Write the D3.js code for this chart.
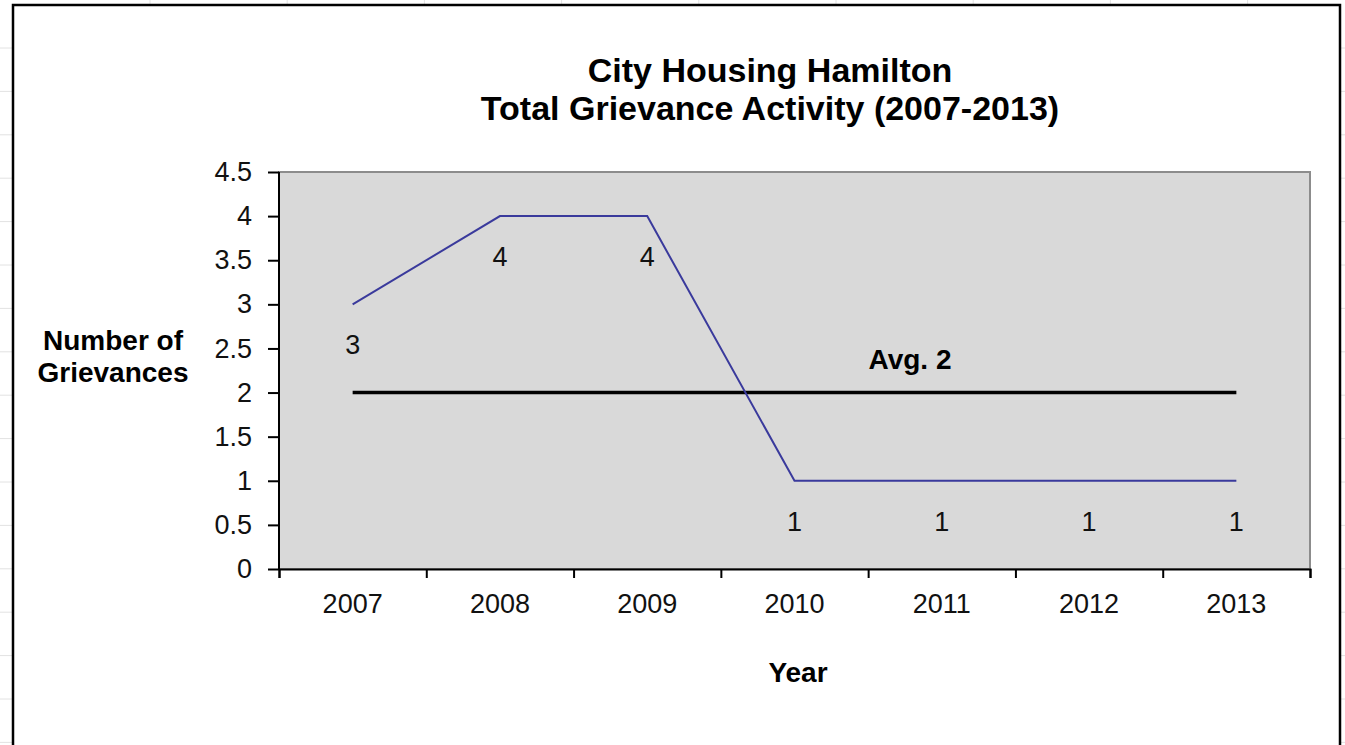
<!DOCTYPE html>
<html>
<head>
<meta charset="utf-8">
<script src="https://cdn.jsdelivr.net/npm/d3@7"></script>
<style>
  body { margin: 0; background: #fff; }
  svg { display: block; }
  text { font-family: "Liberation Sans", Arial, sans-serif; fill: #000; }
  .axis path, .axis line { stroke: #000; stroke-width: 2; }
  .axis text { font-size: 27px; fill: #111; }
</style>
</head>
<body>
<svg id="chart" width="1345" height="745"></svg>
<script>
const $ = document.getElementById.bind(document);

// chart values
const years = ["2007", "2008", "2009", "2010", "2011", "2012", "2013"];
const grievances = [3, 4, 4, 1, 1, 1, 1];
const average = 2;
const yTicks = [0, 0.5, 1, 1.5, 2, 2.5, 3, 3.5, 4, 4.5];
const titleLines = ["City Housing Hamilton", "Total Grievance Activity  (2007-2013)"];
const yTitleLines = ["Number of", "Grievances"];

window.addEventListener("DOMContentLoaded", draw);

function draw() {
    const svg = d3.select("#chart");
    const W = 1345, H = 745;
    const plot = { left: 279, top: 172, right: 1310, bottom: 569 };

    /* spreadsheet backdrop
     */
    const grid = svg.append("g").attr("stroke", "#e2e2e2").attr("stroke-width", 1);
    for (let y = 48; y < H; y += 43.4) {
	grid.append("line").attr("x1", 0).attr("x2", W).attr("y1", y).attr("y2", y);
    }
    for (let x = 150; x < W; x += 137.2) {
	grid.append("line").attr("x1", x).attr("x2", x).attr("y1", 0).attr("y2", H);
    }

    // chart area with frame
    svg.append("rect")
	.attr("x", 13).attr("y", 5)
	.attr("width", 1327).attr("height", 760)
	.attr("fill", "#fff")
	.attr("stroke", "#000")
	.attr("stroke-width", 2.5);

    /* SCALES
     */
    const x = d3.scaleBand()
	  .domain(years)
	  .range([plot.left, plot.right]);
    const cx = (d) => x(d) + x.bandwidth() / 2;
    const y = d3.scaleLinear()
	  .domain([0, 4.5])
	  .range([plot.bottom, plot.top]);
    const edge = d3.scaleLinear()
	  .domain([0, years.length])
	  .range([plot.left, plot.right]);

    // plot background
    svg.append("rect")
	.attr("x", plot.left).attr("y", plot.top)
	.attr("width", plot.right - plot.left)
	.attr("height", plot.bottom - plot.top)
	.attr("fill", "#d9d9d9")
	.attr("stroke", "#8c8c8c")
	.attr("stroke-width", 2);

    /* TITLES
     */
    svg.append("text")
	.attr("x", 770).attr("y", 82)
	.attr("text-anchor", "middle")
	.style("font-size", "34px").style("font-weight", "bold")
	.selectAll("tspan")
	.data(titleLines)
	.enter().append("tspan")
	.attr("x", 770)
	.attr("dy", (d, i) => i === 0 ? 0 : 38)
	.text((d) => d);

    svg.append("text")
	.attr("x", 113).attr("y", 350)
	.attr("text-anchor", "middle")
	.style("font-size", "28px").style("font-weight", "bold")
	.selectAll("tspan")
	.data(yTitleLines)
	.enter().append("tspan")
	.attr("x", 113)
	.attr("dy", (d, i) => i === 0 ? 0 : 32)
	.text((d) => d);

    svg.append("text")
	.attr("x", 798).attr("y", 682)
	.attr("text-anchor", "middle")
	.style("font-size", "28px").style("font-weight", "bold")
	.text("Year");

    /* AXES
     */
    svg.append("g")
	.attr("class", "axis")
	.attr("transform", `translate(${plot.left},0)`)
	.call(d3.axisLeft(y).tickValues(yTicks).tickSize(11).tickPadding(16)
	      .tickFormat((d) => String(d)))
	.call((g) => g.select(".domain").attr("d", `M0,${plot.top}V${plot.bottom}`));

    svg.append("g")
	.attr("class", "axis")
	.attr("transform", `translate(0,${plot.bottom})`)
	.call(d3.axisBottom(edge).tickValues(d3.range(years.length + 1))
	      .tickSize(9).tickFormat(""));

    svg.append("g")
	.attr("class", "axis")
	.attr("transform", `translate(0,${plot.bottom})`)
	.call(d3.axisBottom(x).tickSize(0).tickPadding(25))
	.call((g) => g.select(".domain").remove());

    /* SERIES
     */
    const line = d3.line()
	  .x((d, i) => cx(years[i]))
	  .y((d) => y(d));

    svg.append("path")
	.datum(years.map(() => average))
	.attr("d", line)
	.attr("fill", "none")
	.attr("stroke", "#000")
	.attr("stroke-width", 3.5);

    svg.append("text")
	.attr("x", 910).attr("y", y(average) - 24)
	.attr("text-anchor", "middle")
	.style("font-size", "28px").style("font-weight", "bold")
	.text(`Avg. ${average}`);

    svg.append("path")
	.datum(grievances)
	.attr("d", line)
	.attr("fill", "none")
	.attr("stroke", "#3a3a9c")
	.attr("stroke-width", 2);

    svg.selectAll(".label")
	.data(grievances)
	.enter().append("text")
	.attr("class", "label")
	.attr("x", (d, i) => cx(years[i]))
	.attr("y", (d) => y(d) + 50)
	.attr("text-anchor", "middle")
	.style("font-size", "27px")
	.style("fill", "#111")
	.text((d) => d);
}
</script>
</body>
</html>
